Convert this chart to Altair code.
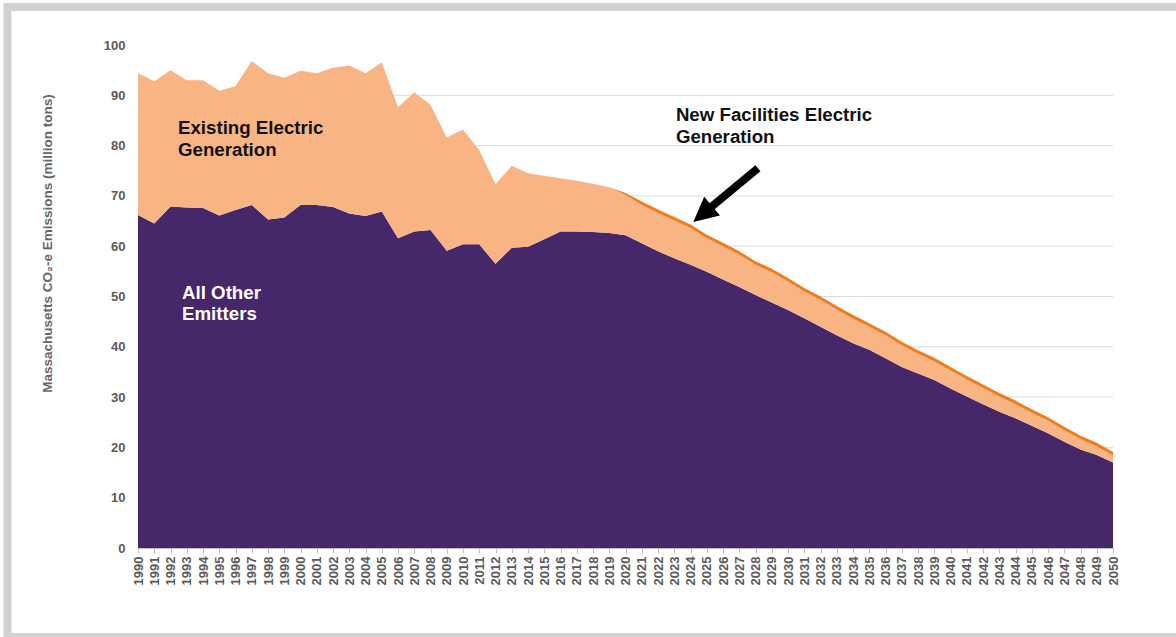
import altair as alt
import pandas as pd

years = list(range(1990, 2051))

all_other = [66.2, 64.5, 67.9, 67.7, 67.6, 66.1, 67.2, 68.2, 65.3, 65.7,
             68.2, 68.2, 67.8, 66.5, 66.0, 66.9, 61.6, 62.9, 63.2, 59.1,
             60.4, 60.4, 56.5, 59.7, 59.9, 61.4, 62.9, 62.9, 62.8, 62.6,
             62.2, 60.6, 59.0, 57.6, 56.3, 54.9, 53.4, 51.9, 50.3, 48.8,
             47.3, 45.7, 44.0, 42.3, 40.7, 39.4, 37.7, 36.0, 34.7, 33.4,
             31.7, 30.1, 28.6, 27.1, 25.8, 24.3, 22.8, 21.1, 19.6, 18.5,
             17.0]

existing = [28.2, 28.3, 27.1, 25.3, 25.4, 24.8, 24.6, 28.6, 29.1, 27.8,
            26.7, 26.2, 27.7, 29.4, 28.4, 29.6, 26.0, 27.7, 24.9, 22.5,
            22.8, 18.7, 15.8, 16.3, 14.6, 12.6, 10.6, 10.1, 9.6, 9.1,
            8.0, 7.6, 7.6, 7.5, 7.3, 6.7, 6.6, 6.4, 6.0, 6.0,
            5.7, 5.3, 5.3, 5.1, 4.9, 4.6, 4.6, 4.3, 3.9, 3.7,
            3.6, 3.4, 3.2, 3.0, 2.8, 2.6, 2.5, 2.3, 2.0, 1.7,
            1.4]

new_facilities = [0.0] * 29 + [0.0, 0.4] + [0.7] * 30

series_names = ["All Other Emitters", "Existing Electric Generation",
                "New Facilities Electric Generation"]
series_colors = ["#46286a", "#f8b583", "#f07c1c"]

y_ticks = [0, 10, 20, 30, 40, 50, 60, 70, 80, 90, 100]
grid_values = [10, 20, 30, 40, 50, 60, 70, 80, 90]

rows = []
for i, yr in enumerate(years):
    for order, (name, vals) in enumerate(zip(series_names,
                                             [all_other, existing, new_facilities])):
        rows.append({"year": yr, "series": name, "value": vals[i], "order": order})
df = pd.DataFrame(rows)

W, H = 975, 503
x_scale = alt.Scale(domain=[1990, 2050], nice=False, zero=False)
y_scale = alt.Scale(domain=[0, 100], nice=False)

label_color = "#5a5a5a"

x_axis = alt.Axis(values=years, format="d", labelAngle=270,
                  labelFontSize=13, labelFontWeight="bold",
                  labelColor=label_color, labelFont="Liberation Sans",
                  tickColor="#bfbfbf", tickSize=5, domainColor="#bfbfbf",
                  labelPadding=3, grid=False, title=None,
                  labelOverlap=False, labelBound=False, labelFlush=False)
y_axis = alt.Axis(values=y_ticks, labelFontSize=13, labelFontWeight="bold",
                  labelColor=label_color, labelFont="Liberation Sans",
                  domain=False, ticks=False, grid=False, labelPadding=13,
                  labelOverlap=False,
                  title="Massachusetts CO₂-e Emissions (million tons)",
                  titleFont="Liberation Sans", titleFontSize=13.5,
                  titleFontWeight="bold", titleColor="#666666",
                  titleAngle=270, titleAlign="center", titleBaseline="middle",
                  titleX=-91, titleY=198)

# frame
frame = alt.Chart(pd.DataFrame({"a": [0]})).mark_rect(
    fillOpacity=0, stroke="#d1d1d3", strokeWidth=8
).encode(
    x=alt.value(-130.5), x2=alt.value(1045), y=alt.value(-38), y2=alt.value(592)
)

grid = alt.Chart(pd.DataFrame({"g": grid_values})).mark_rule(
    color="#d9d9d9", strokeWidth=1
).encode(
    y=alt.Y("g:Q", scale=y_scale, axis=y_axis),
    x=alt.value(0), x2=alt.value(W)
)

areas = alt.Chart(df).mark_area(interpolate="linear").encode(
    x=alt.X("year:Q", scale=x_scale, axis=x_axis),
    y=alt.Y("value:Q", stack="zero", scale=y_scale, axis=y_axis),
    color=alt.Color("series:N", scale=alt.Scale(domain=series_names, range=series_colors),
                    legend=None),
    order=alt.Order("order:Q", sort="ascending"),
)

FS = 18.7
ann_df = pd.DataFrame([
    {"year": 1992.46, "value": 82.4, "text": ["Existing Electric", "Generation"], "c": "#111111"},
    {"year": 2023.1, "value": 84.9, "text": ["New Facilities Electric", "Generation"], "c": "#111111"},
])
annotations = alt.Chart(ann_df).mark_text(
    align="left", baseline="alphabetic", fontSize=FS, fontWeight="bold",
    font="Liberation Sans", lineHeight=22
).encode(
    x=alt.X("year:Q", scale=x_scale, axis=x_axis),
    y=alt.Y("value:Q", scale=y_scale, axis=y_axis),
    text="text", color=alt.Color("c:N", scale=None)
)

white_df = pd.DataFrame([{"year": 1992.71, "value": 49.6, "text": ["All Other", "Emitters"]}])
white_text = alt.Chart(white_df).mark_text(
    align="left", baseline="alphabetic", fontSize=FS, fontWeight="bold",
    font="Liberation Sans", lineHeight=21, color="white"
).encode(
    x=alt.X("year:Q", scale=x_scale, axis=x_axis),
    y=alt.Y("value:Q", scale=y_scale, axis=y_axis), text="text"
)

arrow_shaft_df = pd.DataFrame([{"year": 2028.15, "value": 75.5, "x2": 2024.75, "y2": 66.4}])
arrow_shaft = alt.Chart(arrow_shaft_df).mark_rule(color="black", strokeWidth=8).encode(
    x=alt.X("year:Q", scale=x_scale, axis=x_axis),
    y=alt.Y("value:Q", scale=y_scale, axis=y_axis),
    x2="x2:Q", y2="y2:Q"
)
arrow_head_df = pd.DataFrame([{"year": 2024.75, "value": 66.4}])
arrow_head = alt.Chart(arrow_head_df).mark_point(
    shape="M0,-1L1,1L-1,1Z", size=600, filled=True, color="black", opacity=1, angle=230
).encode(
    x=alt.X("year:Q", scale=x_scale, axis=x_axis),
    y=alt.Y("value:Q", scale=y_scale, axis=y_axis)
)

chart = alt.layer(frame, grid, areas, annotations, white_text, arrow_shaft, arrow_head).properties(
    width=W, height=H,
    autosize=alt.AutoSizeParams(type="none"),
    padding={"left": 138, "top": 45, "right": 63, "bottom": 89},
    background="white",
).configure_view(stroke=None)

chart.save("out.html", embed_options={"renderer": "svg", "actions": False})
